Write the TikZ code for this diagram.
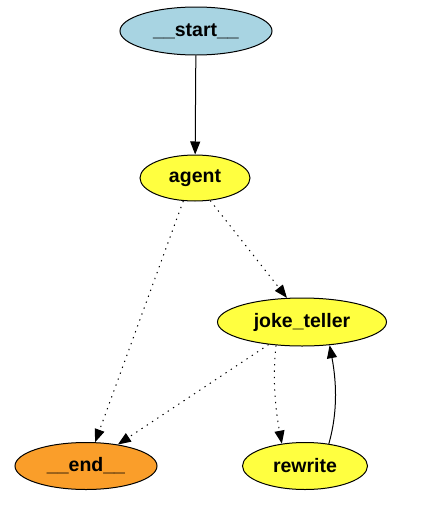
\documentclass[tikz,border=0pt]{standalone}
\usepackage{fontspec}
\setmainfont{Liberation Sans}
\usetikzlibrary{shapes.geometric,arrows.meta}
\definecolor{startblue}{RGB}{168,212,226}
\definecolor{nodeyellow}{RGB}{255,255,64}
\definecolor{endorange}{RGB}{250,158,42}
\tikzset{
  gnode/.style={ellipse, draw=black, line width=1pt, inner sep=0pt, font=\fontsize{19.5}{22}\selectfont\bfseries},
  edge/.style={line width=1pt, -{Triangle[length=13pt,width=10pt]}},
  dotedge/.style={edge, dash pattern=on 1.3pt off 5pt},
}
\begin{document}
\begin{tikzpicture}[x=1pt,y=-1pt]
\useasboundingbox (0,0) rectangle (429,509);
\node[gnode, fill=startblue, minimum width=152pt, minimum height=48pt] (st) at (196,31) {\_\_start\_\_};
\node[gnode, fill=nodeyellow, minimum width=110pt, minimum height=46pt] (ag) at (195,178) {agent};
\node[gnode, fill=nodeyellow, minimum width=169pt, minimum height=48pt] (jt) at (302,322) {joke\_teller};
\node[gnode, fill=endorange, minimum width=142pt, minimum height=47pt] (en) at (86,466) {\_\_end\_\_};
\node[gnode, fill=nodeyellow, minimum width=125pt, minimum height=47pt] (rw) at (305,466) {rewrite};
\draw[edge] (st) -- (ag);
\draw[dotedge] (ag.243) -- (en.69);
\draw[dotedge] (ag.304) -- (jt.122);
\draw[dotedge] (jt.214) -- (en.34);
\draw[dotedge] (jt.222) .. controls +(-4,35) and +(-6,-32) .. (rw.136);
\draw[edge] (rw.43) .. controls +(10,-35) and +(6,32) .. (jt.320);
\end{tikzpicture}
\end{document}
